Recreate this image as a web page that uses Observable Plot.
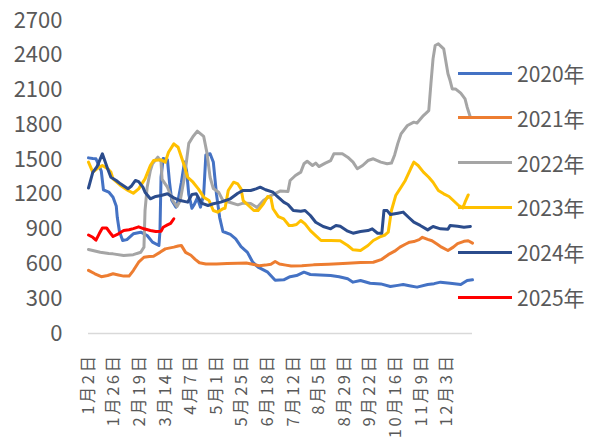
<!DOCTYPE html>
<html><head><meta charset="utf-8">
<script src="https://cdn.jsdelivr.net/npm/d3@7"></script>
<script src="https://cdn.jsdelivr.net/npm/@observablehq/plot@0.6"></script>
<style>
body{margin:0;background:#fff;}
#wrap{position:relative;width:590px;height:446px;font-family:"Noto Sans CJK SC","Noto Sans",sans-serif;overflow:hidden;}
#wrap svg{position:absolute;left:0;top:0;}
.lg-line{position:absolute;left:458px;width:54px;height:3px;}
.lg-text{position:absolute;left:517px;height:30px;line-height:30px;font-size:21px;color:#595959;white-space:nowrap;}
g[aria-label="x-axis tick label"] text{letter-spacing:2.5px;}
</style>
</head><body><div id="wrap"></div>
<script>
// ---- data (x = days after 1月2日, y = value) ----
const seriesNames = ["2020年","2021年","2022年","2023年","2024年","2025年"];
const seriesColors = ["#4472C4","#ED7D31","#A5A5A5","#FFC000","#2B4C8C","#FF0000"];
const tickDays = [0,24,48,72,96,120,144,168,192,216,240,264,288,312,336];
const tickLabels = ["1月2日","1月26日","2月19日","3月14日","4月7日","5月1日","5月25日","6月18日","7月12日","8月5日","8月29日","9月22日","10月16日","11月9日","12月3日"];
const yTicks = [0,300,600,900,1200,1500,1800,2100,2400,2700];

const s2020 = [[0,1515],[4,1510],[7,1507],[9,1464],[12,1400],[14,1240],[19,1220],[23,1176],[26,1100],[27,1000],[29,880],[32,802],[36,810],[42,860],[49,874],[55,845],[60,788],[66,759],[67,880],[68,1348],[70,1509],[74,1500],[76,1300],[78,1150],[82,1090],[84,1150],[87,1300],[90,1480],[92,1400],[94,1200],[97,1080],[99,1110],[102,1170],[105,1090],[108,1200],[110,1540],[114,1550],[117,1480],[120,1200],[123,1000],[126,880],[133,855],[138,817],[143,750],[149,700],[154,615],[159,572],[168,529],[175,460],[183,463],[189,490],[195,500],[202,529],[208,509],[217,505],[227,500],[235,490],[243,472],[248,443],[255,457],[264,434],[274,428],[283,405],[290,415],[295,423],[302,410],[308,400],[318,423],[324,430],[330,443],[339,434],[349,423],[355,457],[360,463]];
const s2021 = [[0,545],[6,515],[12,490],[18,500],[23,515],[28,505],[33,495],[38,495],[42,543],[47,615],[52,658],[57,665],[61,667],[67,700],[72,730],[80,745],[84,755],[87,760],[91,700],[96,675],[100,640],[104,610],[110,600],[120,600],[130,603],[140,605],[148,608],[155,595],[160,585],[166,590],[171,598],[175,621],[179,600],[185,590],[190,582],[200,585],[211,592],[225,598],[243,607],[255,612],[267,615],[275,640],[281,680],[287,710],[292,745],[297,770],[301,788],[305,793],[310,810],[313,830],[318,812],[322,800],[327,770],[331,745],[337,716],[342,745],[346,775],[352,795],[356,800],[360,780]];
const s2022 = [[0,725],[7,710],[11,701],[19,690],[23,687],[33,673],[42,680],[49,701],[52,745],[53,1061],[55,1262],[58,1406],[60,1464],[65,1521],[68,1480],[69,1330],[74,1262],[79,1147],[83,1095],[86,1147],[90,1350],[94,1640],[98,1700],[102,1745],[108,1700],[111,1560],[114,1348],[117,1250],[122,1219],[126,1147],[133,1130],[140,1110],[145,1125],[152,1121],[158,1087],[164,1147],[171,1190],[180,1230],[187,1225],[189,1320],[194,1363],[199,1392],[202,1464],[205,1486],[210,1449],[213,1470],[216,1440],[222,1470],[227,1492],[230,1550],[238,1550],[243,1521],[248,1478],[252,1421],[257,1449],[262,1492],[267,1507],[274,1478],[280,1464],[284,1470],[287,1540],[290,1640],[293,1722],[299,1794],[305,1823],[308,1815],[314,1880],[319,1923],[321,2154],[323,2369],[325,2484],[328,2499],[333,2456],[337,2240],[339,2182],[341,2110],[344,2110],[349,2073],[353,2024],[355,1952],[358,1866]];
const s2023 = [[0,1478],[4,1392],[8,1421],[13,1449],[18,1421],[21,1392],[23,1334],[30,1277],[37,1234],[42,1210],[47,1248],[53,1334],[58,1449],[61,1492],[68,1498],[72,1478],[75,1564],[80,1636],[84,1607],[89,1470],[93,1348],[98,1305],[103,1248],[108,1176],[113,1147],[117,1061],[121,1047],[126,1076],[128,1080],[131,1234],[136,1305],[140,1290],[143,1248],[145,1147],[150,1104],[155,1061],[159,1061],[164,1119],[168,1182],[171,1170],[173,1076],[178,1009],[183,989],[188,932],[191,932],[195,940],[199,975],[203,946],[208,888],[213,845],[218,802],[227,802],[236,800],[243,759],[248,722],[255,716],[262,759],[267,802],[274,837],[278,850],[281,874],[284,1061],[288,1190],[293,1262],[297,1320],[302,1421],[305,1478],[309,1449],[314,1392],[319,1348],[323,1305],[328,1234],[333,1205],[338,1182],[342,1147],[347,1104],[351,1084],[353,1133],[356,1195]];
const s2024 = [[0,1255],[4,1390],[8,1440],[13,1550],[18,1420],[21,1348],[26,1320],[30,1291],[37,1248],[40,1270],[44,1320],[47,1310],[51,1262],[53,1219],[58,1162],[63,1182],[68,1190],[74,1205],[80,1170],[86,1147],[93,1133],[97,1200],[101,1205],[106,1124],[112,1104],[117,1119],[124,1133],[133,1162],[140,1210],[145,1234],[152,1234],[157,1248],[161,1262],[166,1240],[173,1219],[177,1182],[183,1133],[187,1113],[192,1061],[199,1055],[203,1061],[208,1018],[213,960],[220,923],[227,903],[232,932],[236,925],[243,883],[248,865],[255,880],[262,888],[266,903],[271,865],[275,865],[277,1061],[280,1060],[283,1026],[290,1038],[295,1047],[300,1003],[305,960],[311,932],[318,894],[323,923],[330,903],[337,900],[339,932],[346,925],[352,917],[358,923]];
const s2025 = [[0,850],[4,830],[7,805],[10,860],[13,910],[17,910],[21,860],[23,837],[28,860],[33,888],[38,895],[42,905],[47,920],[52,903],[58,888],[63,880],[68,882],[70,917],[74,937],[77,950],[80,990]];

const allSeries = [s2020,s2021,s2022,s2023,s2024,s2025];
const rows = allSeries.flatMap((s, k) => s.map(([day, value]) => ({day, value, name: seriesNames[k]})));

const chart = Plot.plot({
  width: 590, height: 446,
  marginLeft: 88, marginRight: 118, marginTop: 20, marginBottom: 113,
  style: {fontFamily: '"Noto Sans CJK SC","Noto Sans",sans-serif', color: "#595959", background: "transparent"},
  x: {domain: [0, 360]},
  y: {domain: [0, 2700]},
  color: {domain: seriesNames, range: seriesColors},
  marks: [
    Plot.ruleY([0], {stroke: "#D9D9D9", strokeWidth: 1.5}),
    Plot.axisY({ticks: yTicks, tickFormat: d => String(d), tickSize: 0, tickPadding: 26, fontSize: 22, label: null}),
    Plot.axisX({ticks: tickDays, tickFormat: d => tickLabels[tickDays.indexOf(d)], tickRotate: -90, tickSize: 0, tickPadding: 20, fontSize: 16.5, label: null}),
    Plot.line(rows, {x: "day", y: "value", z: "name", stroke: "name", strokeWidth: 3, strokeLinejoin: "round", strokeLinecap: "round"})
  ]
});
const wrap = document.getElementById("wrap");
wrap.appendChild(chart);

seriesNames.forEach((n, i) => {
  const cy = 73 + i * 44.8;
  const l = document.createElement("div");
  l.className = "lg-line";
  l.style.top = (cy - 1.5) + "px";
  l.style.background = seriesColors[i];
  wrap.appendChild(l);
  const t = document.createElement("div");
  t.className = "lg-text";
  t.style.top = (cy - 15) + "px";
  t.textContent = n;
  wrap.appendChild(t);
});
</script></body></html>
